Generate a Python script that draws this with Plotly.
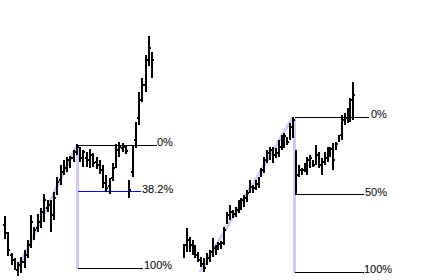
import plotly.graph_objects as go

# ---------------- data: left panel (trading days 0..45) ----------------
left_day = list(range(46))
left_open = [55, 42, 25, 20, 10, 12, 18, 25, 40, 43, 52, 58, 65, 72, 75, 65, 90, 100, 108, 112, 115, 122, 128,
             130, 125, 122, 120, 123, 118, 115, 110, 100, 94, 102, 115, 130, 132, 133, 97, 108, 140, 162, 185, 195, 220, 225]
left_high = [64, 48, 27, 22, 18, 23, 30, 40, 65, 53, 66, 72, 86, 80, 80, 88, 103, 115, 120, 123, 124, 130, 136,
             133, 130, 128, 131, 127, 123, 120, 115, 105, 102, 117, 136, 138, 137, 135, 100, 134, 158, 188, 202, 225, 244, 228]
left_low = [41, 24, 15, 10, 4, 7, 12, 22, 32, 40, 48, 52, 58, 68, 48, 60, 85, 95, 105, 108, 112, 118, 125,
            118, 113, 113, 112, 113, 111, 106, 92, 88, 86, 99, 112, 123, 128, 126, 82, 103, 132, 155, 178, 188, 214, 202]
left_close = [47, 30, 18, 14, 15, 18, 26, 35, 58, 50, 62, 68, 80, 76, 55, 82, 98, 110, 116, 120, 122, 127, 133,
              122, 128, 118, 125, 117, 114, 110, 97, 92, 90, 112, 130, 133, 134, 129, 90, 130, 152, 180, 195, 218, 232, 220]

# ---------------- data: right panel (trading days 0..59) ----------------
right_day = list(range(60))
right_open = [30, 35, 40, 35, 30, 25, 20, 18, 18, 22, 28, 32, 32, 34, 40, 60, 65, 68, 66, 70, 74, 77, 82, 90,
              93, 92, 96, 105, 110, 120, 125, 130, 125, 127, 133, 140, 141, 143, 150,
              125, 105, 110, 110, 108, 117, 118, 120, 125, 115, 118, 122, 128, 130, 132, 140, 145, 160, 162, 165, 170]
right_high = [36, 52, 43, 40, 35, 28, 23, 22, 27, 30, 42, 35, 38, 39, 53, 68, 75, 70, 73, 80, 82, 85, 90, 100,
              95, 100, 103, 112, 123, 130, 133, 133, 132, 140, 145, 147, 143, 157, 163,
              130, 115, 112, 117, 123, 125, 120, 135, 128, 122, 128, 133, 133, 137, 138, 145, 165, 167, 172, 182, 198]
right_low = [22, 28, 28, 25, 22, 18, 13, 8, 15, 18, 23, 25, 30, 31, 35, 56, 60, 62, 63, 67, 70, 73, 78, 87,
             87, 90, 92, 103, 107, 117, 120, 117, 122, 123, 130, 132, 135, 140, 142,
             85, 103, 105, 108, 105, 112, 113, 115, 112, 105, 115, 118, 123, 110, 130, 138, 140, 155, 157, 158, 160]
right_close = [25, 48, 32, 30, 25, 20, 16, 12, 24, 28, 38, 30, 36, 37, 50, 65, 72, 65, 70, 76, 80, 82, 87, 96,
               90, 97, 101, 110, 120, 127, 130, 122, 129, 137, 141, 144, 138, 153, 160,
               90, 112, 108, 115, 120, 122, 115, 130, 115, 110, 125, 130, 131, 120, 136, 143, 160, 164, 168, 180, 185]

# ---------------- Fibonacci retracement setups ----------------
left_fib_levels = ["0%", "38.2%", "100%"]
left_fib_ratio = [0.0, 0.382, 1.0]
left_swing = dict(high_day=22, high=135, low=12, low_day=4)
right_fib_levels = ["0%", "50%", "100%"]
right_fib_ratio = [0.0, 0.5, 1.0]
right_swing = dict(high_day=38, high=163, low=8, low_day=6)

# ---------------- layout geometry (pixels -> axis ranges) ----------------
W, H = 423, 280
split = 178 / W
LPX0, LSTEP = 5, 3.27          # left: pixel of day 0, pixels per day
RPX0, RSTEP = 184, 2.87        # right
def lday(px):
    return (px - LPX0) / LSTEP
def rday(px):
    return (px - RPX0) / RSTEP

fig = go.Figure()
ohlc_style = dict(increasing=dict(line=dict(color="black", width=2)),
                  decreasing=dict(line=dict(color="black", width=2)),
                  tickwidth=0.5, hoverinfo="skip", showlegend=False)
fig.add_trace(go.Ohlc(x=left_day, open=left_open, high=left_high, low=left_low, close=left_close,
                      xaxis="x", yaxis="y", **ohlc_style))
fig.add_trace(go.Ohlc(x=right_day, open=right_open, high=right_high, low=right_low, close=right_close,
                      xaxis="x2", yaxis="y", **ohlc_style))

lav = "rgb(204,204,255)"
shapes, annotations = [], []

def add_fib(xref, swing, labels, ratios, line_ends, label_x, diag_start_day, vx, colors):
    hi, lo = swing["high"], swing["low"]
    shapes.append(dict(type="line", xref=xref, yref="y", x0=diag_start_day, y0=lo, x1=swing["high_day"], y1=hi,
                       line=dict(color=lav, width=3), layer="below"))
    shapes.append(dict(type="line", xref=xref, yref="y", x0=vx, y0=hi, x1=vx, y1=lo - 1,
                       line=dict(color=lav, width=3), layer="below"))
    for lab, r, xe, lx, c in zip(labels, ratios, line_ends, label_x, colors):
        lvl = hi - r * (hi - lo)
        shapes.append(dict(type="line", xref=xref, yref="y", x0=vx, y0=lvl, x1=xe, y1=lvl,
                           line=dict(color=c, width=1), layer="below"))
        annotations.append(dict(xref=xref, yref="y", x=lx, y=lvl + 3, text=lab, showarrow=False,
                                xanchor="left", yanchor="middle", borderpad=0,
                                font=dict(family="Liberation Sans, Arial, sans-serif", size=11, color="black")))

add_fib("x", left_swing, left_fib_levels, left_fib_ratio,
        [lday(157), lday(141), lday(143)], [lday(155.5), lday(140.5), lday(142.5)],
        lday(18), lday(77.5), ["black", "rgb(0,0,255)", "black"])
add_fib("x2", right_swing, right_fib_levels, right_fib_ratio,
        [rday(369), rday(364), rday(364)], [rday(369.5), rday(363.5), rday(362.5)],
        rday(200), rday(294.5), ["black", "black", "black"])

axis_common = dict(showgrid=False, zeroline=False, showticklabels=False, ticks="", showline=False,
                   fixedrange=True)
fig.update_layout(
    width=W, height=H, margin=dict(l=0, r=0, t=0, b=0),
    paper_bgcolor="white", plot_bgcolor="white",
    xaxis=dict(domain=[0, split], range=[lday(0), lday(178)], rangeslider=dict(visible=False), **axis_common),
    xaxis2=dict(domain=[split, 1], range=[rday(178), rday(423)], rangeslider=dict(visible=False),
                anchor="y", **axis_common),
    yaxis=dict(range=[0, 280], **axis_common),
    shapes=shapes, annotations=annotations, showlegend=False,
)

crisp = ("var d=document.getElementById('{plot_id}');"
         "d.querySelectorAll('g.ohlclayer path, .shapelayer path').forEach(function(p){"
         "p.style.shapeRendering='crispEdges';});")
fig.write_html("out.html", config={"displayModeBar": False}, post_script=crisp)
